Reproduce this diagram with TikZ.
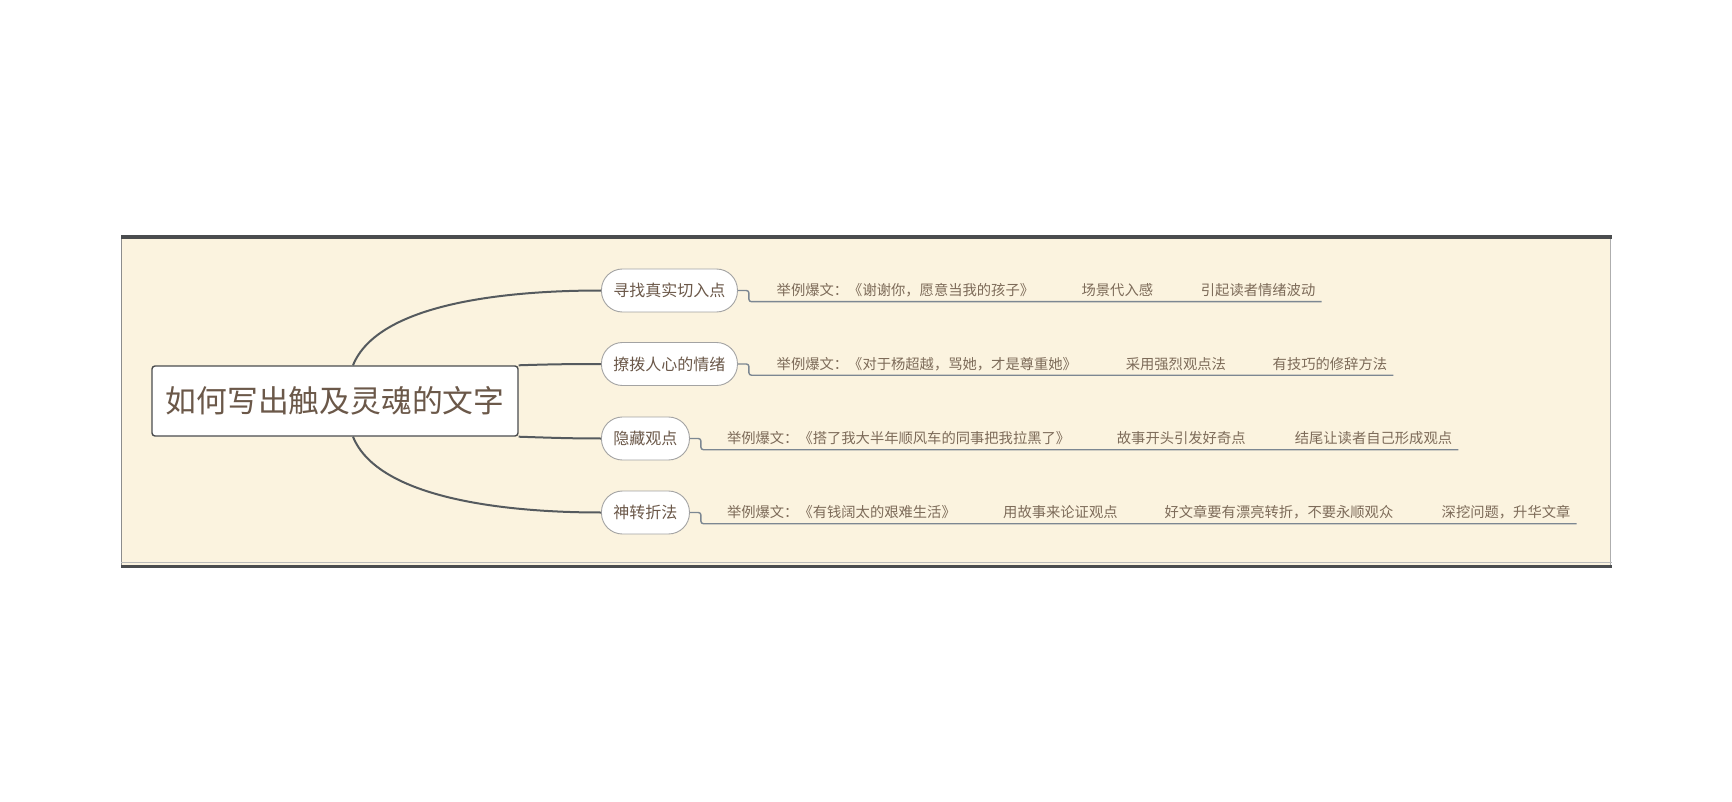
\documentclass[tikz,border=0pt]{standalone}
\usepackage{fontspec}
\setmainfont{Noto Sans CJK SC}
\definecolor{bgcream}{HTML}{FBF3DF}
\definecolor{framedark}{HTML}{4A4C4E}
\definecolor{framegray}{HTML}{8C8C8C}
\definecolor{maintext}{HTML}{6B5849}
\definecolor{leaftext}{HTML}{7D6B59}
\definecolor{nodeborder}{HTML}{A3A3A3}
\definecolor{trunkcol}{HTML}{555A5E}
\definecolor{linecol}{HTML}{7C8792}
\tikzset{
  centerbox/.style={draw=framedark, line width=1.4pt, fill=white, rounded corners=3pt,
    minimum width=366pt, minimum height=70pt, inner sep=0pt,
    font=\fontsize{30.8pt}{34pt}\selectfont, text=maintext},
  branchbox/.style={draw=nodeborder, line width=0.9pt, fill=white, rounded corners=21pt,
    minimum height=43pt, inner xsep=12pt, inner ysep=0pt, anchor=west,
    font=\fontsize{16pt}{18pt}\selectfont, text=maintext},
  leafbox/.style={anchor=west, inner xsep=6pt, inner ysep=0pt, minimum height=22pt,
    font=\fontsize{14.3pt}{16pt}\selectfont, text=leaftext},
  trunk/.style={draw=trunkcol, line width=2pt},
  elbow/.style={draw=linecol, line width=1.4pt, rounded corners=2.5pt}
}
\begin{document}
\begin{tikzpicture}[x=1pt,y=-1pt]
\useasboundingbox (0,0) rectangle (1732,802);
\fill[white] (0,0) rectangle (1732,802);
\fill[bgcream] (121,235) rectangle (1611,568);
\draw[framegray, line width=1pt] (121.5,235) -- (121.5,568);
\draw[framegray!70, line width=1pt] (1610.5,235) -- (1610.5,568);
\draw[framedark, line width=4pt] (121,237) -- (1612,237);
\draw[framegray!60, line width=1pt] (121,562.5) -- (1612,562.5);
\draw[framedark, line width=3pt] (121,566) -- (1612,566);

% central topic
\node[centerbox] (c) at (335,401) {如何写出触及灵魂的文字};

% main branches
\node[branchbox] (n1) at (601,290.5) {寻找真实切入点};
\node[branchbox] (n2) at (601,364) {撩拨人心的情绪};
\node[branchbox] (n3) at (601,438.5) {隐藏观点};
\node[branchbox] (n4) at (601,512.5) {神转折法};

\draw[trunk] ([xshift=18pt]c.north) .. controls +(25,-62) and +(-95,0) .. (n1.west);
\draw[trunk] (c.north east) .. controls +(30,-1) and +(-30,0) .. (n2.west);
\draw[trunk] (c.south east) .. controls +(30,1) and +(-30,0) .. (n3.west);
\draw[trunk] ([xshift=18pt]c.south) .. controls +(25,62) and +(-95,0) .. (n4.west);

% leaves row 1
\node[leafbox] (l1a) at (770.5,290.5) {举例爆文：《谢谢你，愿意当我的孩子》};
\node[leafbox] (l1b) at (1075.4,290.5) {场景代入感};
\node[leafbox] (l1c) at (1194.7,290.5) {引起读者情绪波动};
\draw[elbow] (n1.east) -- ++(11,0) |- (l1c.south east);

% leaves row 2
\node[leafbox] (l2a) at (770.5,364) {举例爆文：《对于杨超越，骂她，才是尊重她》};
\node[leafbox] (l2b) at (1119.6,364) {采用强烈观点法};
\node[leafbox] (l2c) at (1266.5,364) {有技巧的修辞方法};
\draw[elbow] (n2.east) -- ++(11,0) |- (l2c.south east);

% leaves row 3
\node[leafbox] (l3a) at (720.8,438.5) {举例爆文：《搭了我大半年顺风车的同事把我拉黑了》};
\node[leafbox] (l3b) at (1110.7,438.5) {故事开头引发好奇点};
\node[leafbox] (l3c) at (1288.6,438.5) {结尾让读者自己形成观点};
\draw[elbow] (n3.east) -- ++(11,0) |- (l3c.south east);

% leaves row 4
\node[leafbox] (l4a) at (720.8,512.5) {举例爆文：《有钱阔太的艰难生活》};
\node[leafbox] (l4b) at (997,512.5) {用故事来论证观点};
\node[leafbox] (l4c) at (1158.3,512.5) {好文章要有漂亮转折，不要永顺观众};
\node[leafbox] (l4d) at (1435.5,512.5) {深挖问题，升华文章};
\draw[elbow] (n4.east) -- ++(11,0) |- (l4d.south east);
\end{tikzpicture}
\end{document}
